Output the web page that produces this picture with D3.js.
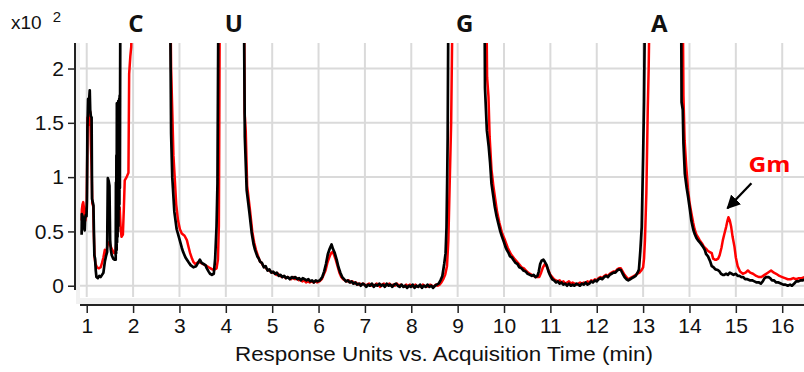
<!DOCTYPE html>
<html>
<head>
<meta charset="utf-8">
<script src="https://cdn.jsdelivr.net/npm/d3@7/dist/d3.min.js"></script>
<style>
  html, body { margin: 0; padding: 0; background: #fff; }
  svg { display: block; }
  .tick text { font-family: "Liberation Sans", Arial, sans-serif; font-size: 21px; fill: #111; }
</style>
</head>
<body>
<script>
// Chromatogram traces: [time (min), response (x10^2)]
const blackTrace = [
  [0.89,0.47],[0.895,0.66],[0.91,0.64],[0.93,0.60],[0.945,0.53],[0.955,0.51],[0.965,0.62],[0.98,0.65],[0.995,0.64],
  [1.005,0.78],[1.015,1.45],[1.03,1.72],[1.05,1.70],[1.065,1.80],[1.075,1.62],[1.09,1.56],[1.105,1.55],[1.115,0.80],
  [1.13,0.77],[1.145,0.74],[1.155,0.50],[1.165,0.28],[1.18,0.25],[1.195,0.14],[1.21,0.08],[1.24,0.07],[1.27,0.09],
  [1.30,0.08],[1.33,0.10],[1.36,0.12],[1.39,0.22],[1.42,0.28],[1.44,0.31],[1.455,0.99],[1.475,0.96],[1.49,0.92],
  [1.505,0.42],[1.52,0.33],[1.54,0.28],[1.57,0.25],[1.60,0.24],[1.625,0.24],[1.63,0.95],[1.635,0.30],[1.64,1.20],
  [1.645,0.33],[1.65,1.68],[1.655,0.40],[1.66,1.50],[1.665,0.45],[1.67,1.62],[1.675,0.50],[1.68,1.70],[1.685,0.55],
  [1.69,1.60],[1.695,0.70],[1.70,1.72],[1.705,0.75],[1.71,1.75],[1.715,0.90],[1.72,1.75],[1.725,2.6],[2.25,14],[2.80,2.6],
  [2.82,1.40],[2.845,1.00],[2.89,0.68],[2.94,0.52],[3.00,0.43],[3.05,0.35],[3.08,0.31],[3.13,0.26],[3.19,0.22],
  [3.24,0.19],[3.30,0.17],[3.36,0.18],[3.40,0.21],[3.44,0.24],[3.48,0.21],[3.52,0.20],[3.56,0.19],[3.59,0.16],
  [3.63,0.13],[3.66,0.11],[3.70,0.10],[3.74,0.11],[3.77,0.25],[3.80,0.55],[3.82,0.94],[3.84,2.6],[4.10,20],
  [4.39,2.6],[4.41,1.37],[4.45,0.88],[4.51,0.67],[4.56,0.48],[4.60,0.38],[4.63,0.33],[4.68,0.27],[4.71,0.25],
  [4.74,0.22],[4.78,0.21],[4.82,0.17],[4.86,0.18],[4.90,0.14],[4.94,0.15],[4.98,0.12],[5.02,0.13],[5.06,0.11],
  [5.10,0.12],[5.14,0.09],[5.18,0.10],[5.22,0.08],[5.26,0.09],[5.30,0.07],[5.34,0.08],[5.38,0.06],[5.42,0.08],
  [5.46,0.07],[5.50,0.08],[5.54,0.06],[5.58,0.07],[5.62,0.05],[5.66,0.07],[5.70,0.06],[5.74,0.05],[5.78,0.06],
  [5.82,0.04],[5.86,0.05],[5.90,0.03],[5.94,0.05],[5.98,0.04],[6.03,0.05],[6.08,0.08],[6.12,0.13],[6.16,0.20],
  [6.20,0.29],[6.24,0.34],[6.28,0.38],[6.31,0.34],[6.35,0.30],[6.39,0.24],[6.43,0.17],[6.47,0.12],[6.51,0.08],
  [6.55,0.06],[6.59,0.04],[6.63,0.05],[6.67,0.03],[6.71,0.04],[6.75,0.02],[6.79,0.03],[6.83,0.01],[6.87,0.02],
  [6.91,0.00],[6.95,0.02],[6.99,0.01],[7.03,-0.01],[7.07,0.01],[7.11,0.00],[7.15,0.02],[7.19,-0.01],[7.23,0.01],
  [7.27,0.00],[7.31,0.02],[7.35,0.00],[7.39,0.01],[7.43,-0.01],[7.47,0.02],[7.51,0.00],[7.55,0.01],[7.59,-0.01],
  [7.63,0.01],[7.67,0.02],[7.71,0.00],[7.75,-0.01],[7.79,0.01],[7.83,-0.01],[7.87,0.00],[7.91,-0.02],[7.95,0.00],
  [7.99,-0.01],[8.03,0.01],[8.07,-0.02],[8.11,0.00],[8.15,-0.01],[8.19,0.01],[8.23,-0.02],[8.27,0.00],[8.31,-0.01],
  [8.35,0.01],[8.39,-0.01],[8.43,0.00],[8.47,-0.02],[8.51,0.00],[8.55,0.01],[8.59,0.02],[8.63,0.05],[8.67,0.09],
  [8.71,0.20],[8.74,0.30],[8.76,0.54],[8.775,1.00],[8.785,1.37],[8.80,2.6],[9.20,22],[9.58,2.6],[9.59,1.82],
  [9.63,1.43],[9.67,1.28],[9.70,1.13],[9.73,0.94],[9.77,0.82],[9.80,0.73],[9.84,0.64],[9.88,0.57],[9.92,0.50],
  [9.95,0.46],[10.00,0.40],[10.03,0.36],[10.06,0.33],[10.10,0.30],[10.13,0.27],[10.17,0.26],[10.20,0.24],[10.25,0.21],
  [10.29,0.20],[10.33,0.17],[10.38,0.16],[10.42,0.14],[10.47,0.13],[10.51,0.11],[10.56,0.10],[10.60,0.09],[10.64,0.10],
  [10.68,0.08],[10.72,0.09],[10.75,0.13],[10.78,0.20],[10.81,0.23],[10.85,0.24],[10.88,0.22],[10.92,0.19],[10.96,0.13],
  [11.00,0.09],[11.04,0.06],[11.08,0.05],[11.12,0.03],[11.16,0.04],[11.20,0.02],[11.24,0.03],[11.28,0.01],[11.32,0.02],
  [11.36,0.00],[11.40,0.02],[11.44,0.00],[11.48,0.01],[11.52,0.00],[11.56,0.02],[11.60,0.01],[11.64,0.00],[11.68,0.02],
  [11.72,0.01],[11.76,0.03],[11.80,0.01],[11.84,0.02],[11.88,0.04],[11.92,0.03],[11.96,0.05],[12.00,0.04],[12.04,0.06],
  [12.08,0.07],[12.12,0.06],[12.16,0.08],[12.20,0.09],[12.24,0.08],[12.28,0.10],[12.32,0.11],[12.36,0.12],[12.40,0.12],
  [12.44,0.14],[12.48,0.15],[12.52,0.145],[12.56,0.11],[12.60,0.08],[12.64,0.06],[12.68,0.05],[12.72,0.06],[12.76,0.07],
  [12.80,0.08],[12.84,0.09],[12.88,0.12],[12.91,0.15],[12.94,0.32],[12.97,0.54],[13.00,1.19],[13.02,1.70],[13.04,2.6],
  [13.40,20],[13.82,2.6],[13.83,1.69],[13.855,1.62],[13.87,1.31],[13.90,1.03],[13.94,0.90],[13.97,0.82],[14.01,0.70],
  [14.04,0.60],[14.08,0.52],[14.11,0.48],[14.15,0.44],[14.18,0.42],[14.24,0.39],[14.29,0.36],[14.33,0.33],[14.36,0.29],
  [14.40,0.27],[14.45,0.22],[14.48,0.18],[14.52,0.17],[14.56,0.15],[14.61,0.145],[14.65,0.13],[14.68,0.11],[14.72,0.10],
  [14.75,0.10],[14.79,0.11],[14.83,0.10],[14.87,0.12],[14.91,0.11],[14.95,0.10],[15.00,0.11],[15.04,0.09],[15.08,0.09],
  [15.12,0.08],[15.16,0.08],[15.20,0.06],[15.25,0.06],[15.30,0.05],[15.35,0.05],[15.40,0.04],[15.45,0.03],[15.50,0.03],
  [15.54,0.02],[15.58,0.04],[15.62,0.07],[15.66,0.08],[15.70,0.08],[15.74,0.07],[15.78,0.05],[15.82,0.05],[15.87,0.03],
  [15.92,0.03],[15.97,0.02],[16.02,0.01],[16.07,0.01],[16.12,0.00],[16.17,0.01],[16.21,0.00],[16.26,0.02],[16.30,0.04],
  [16.35,0.04],[16.40,0.05],[16.45,0.05],[16.48,0.06]
];

const redTrace = [
  [0.89,0.60],[0.895,0.70],[0.91,0.75],[0.925,0.77],[0.94,0.72],[0.955,0.62],[0.97,0.60],[0.985,0.64],[1.00,0.74],
  [1.02,1.55],[1.04,1.48],[1.055,1.58],[1.075,1.60],[1.09,1.30],[1.105,1.10],[1.12,0.76],[1.14,0.73],[1.155,0.45],
  [1.17,0.26],[1.19,0.20],[1.22,0.17],[1.26,0.16],[1.30,0.17],[1.33,0.21],[1.36,0.26],[1.39,0.33],[1.42,0.30],
  [1.45,0.38],[1.48,0.40],[1.51,0.37],[1.55,0.33],[1.59,0.30],[1.62,0.31],[1.65,0.45],[1.68,0.70],[1.71,0.72],
  [1.73,0.55],[1.75,0.45],[1.78,0.47],[1.80,0.70],[1.82,0.97],[1.86,1.00],[1.90,1.04],[1.915,1.95],[1.94,2.11],
  [1.96,2.20],[1.98,2.6],[2.30,13],[2.805,2.6],[2.82,2.00],[2.85,1.53],[2.87,1.20],[2.90,0.98],[2.93,0.75],
  [2.97,0.60],[3.01,0.52],[3.05,0.48],[3.11,0.46],[3.16,0.42],[3.20,0.35],[3.23,0.30],[3.27,0.25],[3.30,0.22],
  [3.34,0.20],[3.38,0.21],[3.42,0.22],[3.46,0.21],[3.51,0.20],[3.55,0.19],[3.59,0.18],[3.63,0.17],[3.67,0.16],
  [3.71,0.15],[3.76,0.15],[3.80,0.16],[3.83,0.24],[3.85,0.55],[3.87,2.6],[4.12,19],[4.395,2.6],[4.405,1.60],
  [4.43,1.42],[4.46,0.92],[4.52,0.70],[4.57,0.50],[4.61,0.40],[4.65,0.33],[4.69,0.28],[4.73,0.23],[4.77,0.21],
  [4.81,0.18],[4.85,0.17],[4.89,0.15],[4.93,0.14],[4.97,0.13],[5.01,0.12],[5.05,0.12],[5.09,0.10],[5.13,0.11],
  [5.17,0.09],[5.21,0.08],[5.25,0.09],[5.29,0.07],[5.33,0.08],[5.37,0.07],[5.41,0.06],[5.45,0.08],[5.49,0.06],
  [5.53,0.07],[5.57,0.05],[5.61,0.06],[5.65,0.04],[5.69,0.05],[5.73,0.03],[5.77,0.04],[5.81,0.03],[5.85,0.04],
  [5.89,0.03],[5.93,0.04],[5.97,0.03],[6.02,0.04],[6.07,0.06],[6.11,0.10],[6.15,0.14],[6.19,0.21],[6.23,0.26],
  [6.27,0.30],[6.30,0.31],[6.33,0.29],[6.37,0.24],[6.41,0.18],[6.45,0.12],[6.49,0.08],[6.53,0.06],[6.57,0.05],
  [6.61,0.04],[6.65,0.05],[6.69,0.03],[6.73,0.04],[6.77,0.02],[6.81,0.03],[6.85,0.01],[6.89,0.02],[6.93,0.01],
  [6.97,0.02],[7.01,0.00],[7.05,0.01],[7.09,0.02],[7.13,0.00],[7.17,0.01],[7.21,0.00],[7.25,0.02],[7.29,0.01],
  [7.33,-0.01],[7.37,0.01],[7.41,0.02],[7.45,0.00],[7.49,0.01],[7.53,0.02],[7.57,0.00],[7.61,0.01],[7.65,0.00],
  [7.69,0.02],[7.73,0.00],[7.77,0.01],[7.81,0.00],[7.85,-0.01],[7.89,0.01],[7.93,-0.01],[7.97,0.01],[8.01,0.00],
  [8.05,-0.01],[8.09,0.01],[8.13,-0.01],[8.17,0.00],[8.21,-0.01],[8.25,0.01],[8.29,0.00],[8.33,-0.01],[8.37,0.00],
  [8.41,0.01],[8.45,0.00],[8.49,-0.01],[8.53,0.01],[8.57,0.00],[8.61,0.01],[8.65,0.03],[8.69,0.06],[8.73,0.10],
  [8.77,0.18],[8.80,0.42],[8.83,0.97],[8.86,1.50],[8.89,2.6],[9.22,21],[9.62,2.6],[9.635,1.92],[9.665,1.74],
  [9.69,1.37],[9.73,1.07],[9.77,0.92],[9.81,0.80],[9.85,0.68],[9.90,0.58],[9.96,0.48],[10.02,0.42],[10.08,0.35],
  [10.15,0.29],[10.22,0.25],[10.30,0.21],[10.38,0.17],[10.43,0.16],[10.47,0.14],[10.52,0.12],[10.56,0.11],[10.60,0.10],
  [10.64,0.09],[10.68,0.08],[10.72,0.08],[10.76,0.08],[10.80,0.12],[10.84,0.17],[10.88,0.20],[10.92,0.18],[10.96,0.14],
  [11.00,0.10],[11.04,0.08],[11.08,0.06],[11.12,0.05],[11.16,0.04],[11.20,0.05],[11.24,0.03],[11.28,0.04],[11.32,0.02],
  [11.36,0.03],[11.40,0.04],[11.44,0.02],[11.48,0.03],[11.52,0.02],[11.56,0.01],[11.60,0.02],[11.64,0.03],[11.68,0.02],
  [11.72,0.03],[11.76,0.02],[11.80,0.04],[11.84,0.03],[11.88,0.05],[11.92,0.04],[11.96,0.06],[12.00,0.05],[12.04,0.07],
  [12.08,0.08],[12.12,0.07],[12.16,0.09],[12.20,0.10],[12.24,0.09],[12.28,0.11],[12.32,0.12],[12.36,0.13],[12.40,0.13],
  [12.44,0.15],[12.48,0.16],[12.52,0.16],[12.56,0.13],[12.60,0.10],[12.64,0.08],[12.68,0.06],[12.72,0.07],[12.76,0.08],
  [12.80,0.09],[12.84,0.10],[12.88,0.11],[12.92,0.12],[12.96,0.14],[13.00,0.17],[13.02,0.25],[13.04,0.42],[13.07,0.85],
  [13.10,1.62],[13.12,2.00],[13.14,2.6],[13.45,19],[13.855,2.6],[13.87,1.75],[13.895,1.34],[13.93,1.10],[13.97,0.88],
  [14.00,0.77],[14.04,0.67],[14.08,0.58],[14.11,0.52],[14.15,0.47],[14.18,0.45],[14.22,0.42],[14.27,0.39],[14.31,0.36],
  [14.36,0.34],[14.40,0.32],[14.44,0.31],[14.48,0.30],[14.51,0.25],[14.55,0.24],[14.58,0.24],[14.62,0.25],[14.65,0.28],
  [14.69,0.35],[14.72,0.42],[14.76,0.49],[14.79,0.54],[14.82,0.60],[14.84,0.63],[14.87,0.60],[14.90,0.54],[14.93,0.45],
  [14.97,0.36],[15.00,0.26],[15.04,0.18],[15.09,0.13],[15.15,0.11],[15.21,0.12],[15.26,0.14],[15.31,0.12],[15.37,0.11],
  [15.44,0.09],[15.50,0.08],[15.55,0.08],[15.62,0.10],[15.69,0.12],[15.76,0.14],[15.82,0.12],[15.87,0.11],[15.94,0.09],
  [16.00,0.08],[16.06,0.07],[16.12,0.06],[16.18,0.06],[16.24,0.07],[16.30,0.06],[16.36,0.07],[16.42,0.07],[16.48,0.08]
];

// Peak annotations: label and retention time
const peakLabels = ["C", "U", "G", "A"];
const peakTimes = [2.06, 4.17, 9.15, 13.35];

// Modified nucleoside callout
const calloutLabel = "Gm";
const calloutTime = 14.84;
const calloutValue = 0.63;

const xTicks = [1,2,3,4,5,6,7,8,9,10,11,12,13,14,15,16];
const yTicks = [0, 0.5, 1, 1.5, 2];
const xTitle = "Response Units vs. Acquisition Time (min)";

const W = 804, H = 372;
const plot = { left: 80, right: 804, top: 43, bottom: 298 };

const x = d3.scaleLinear().domain([0.855, 16.47]).range([plot.left, plot.right]);
const y = d3.scaleLinear().domain([-0.113, 2.235]).range([plot.bottom, plot.top]);

const svg = d3.select("body").append("svg").attr("width", W).attr("height", H);

// light frame around the plotting area
svg.append("rect").attr("x", 76).attr("y", plot.top).attr("width", W - 76).attr("height", 304 - plot.top).attr("fill", "#f1f1f1");
svg.append("rect").attr("x", plot.left).attr("y", plot.top).attr("width", plot.right - plot.left).attr("height", plot.bottom - plot.top).attr("fill", "#fff");

// grid
const grid = svg.append("g").attr("stroke", "#dadada").attr("stroke-width", 2);
grid.selectAll("line.v").data(xTicks).join("line")
  .attr("x1", d => x(d)).attr("x2", d => x(d)).attr("y1", plot.top).attr("y2", plot.bottom - 1);
grid.selectAll("line.h").data(yTicks).join("line")
  .attr("x1", plot.left).attr("x2", plot.right).attr("y1", d => y(d)).attr("y2", d => y(d));

// traces
svg.append("clipPath").attr("id", "plotclip").append("rect")
  .attr("x", plot.left).attr("y", plot.top).attr("width", plot.right - plot.left).attr("height", plot.bottom - plot.top);

const line = d3.line().x(d => x(d[0])).y(d => y(d[1]));
const traces = svg.append("g").attr("clip-path", "url(#plotclip)").attr("fill", "none").attr("stroke-linejoin", "round");
traces.append("path").datum(redTrace).attr("d", line).attr("stroke", "#ff0000").attr("stroke-width", 2.5);
traces.append("path").datum(blackTrace).attr("d", line).attr("stroke", "#000").attr("stroke-width", 2.7);

// axes
const xAxis = svg.append("g").attr("transform", `translate(0,305)`)
  .call(d3.axisBottom(x).tickValues(xTicks).tickFormat(d3.format("d")).tickSize(8).tickPadding(5));
xAxis.select(".domain").remove();
xAxis.selectAll(".tick line").attr("stroke", "#222").attr("stroke-width", 1.5);
xAxis.append("line").attr("x1", plot.left).attr("x2", W).attr("y1", 0).attr("y2", 0).attr("stroke", "#222").attr("stroke-width", 2);

const yAxis = svg.append("g").attr("transform", `translate(75,0)`)
  .call(d3.axisLeft(y).tickValues(yTicks).tickFormat(d => d3.format("")(d)).tickSize(7).tickPadding(4));
yAxis.select(".domain").remove();
yAxis.selectAll(".tick line").attr("stroke", "#222").attr("stroke-width", 1.5);
yAxis.append("line").attr("x1", 0).attr("x2", 0).attr("y1", plot.top).attr("y2", 290).attr("stroke", "#222").attr("stroke-width", 2);

// axis title
svg.append("text").attr("x", 444).attr("y", 361).attr("text-anchor", "middle")
  .attr("font-family", "Liberation Sans, Arial, sans-serif").attr("font-size", 21).attr("fill", "#111")
  .attr("textLength", 418).attr("lengthAdjust", "spacingAndGlyphs")
  .text(xTitle);

// scale multiplier
const mult = svg.append("text").attr("x", 11).attr("y", 29)
  .attr("font-family", "Liberation Sans, Arial, sans-serif").attr("font-size", 19).attr("fill", "#111");
mult.append("tspan").text("x10");
mult.append("tspan").attr("dx", 11).attr("dy", -7).attr("font-size", 15).text("2");

// peak labels
svg.selectAll("text.peak").data(peakLabels).join("text")
  .attr("class", "peak")
  .attr("x", (d, i) => x(peakTimes[i])).attr("y", 32).attr("text-anchor", "middle")
  .attr("font-family", "Open Sans, sans-serif").attr("font-weight", 700).attr("font-size", 24).attr("fill", "#111")
  .text(d => d);

// Gm callout with arrow
const tipX = x(calloutTime) - 1, tipY = y(calloutValue) - 9;
const tailX = tipX + 24, tailY = tipY - 25;
svg.append("defs").append("marker").attr("id", "arrowhead")
  .attr("viewBox", "0 0 10 10").attr("refX", 9).attr("refY", 5)
  .attr("markerWidth", 6).attr("markerHeight", 6).attr("markerUnits", "strokeWidth").attr("orient", "auto")
  .append("path").attr("d", "M0,0 L10,5 L0,10 Z").attr("fill", "#000");
svg.append("line").attr("x1", tailX).attr("y1", tailY).attr("x2", tipX).attr("y2", tipY)
  .attr("stroke", "#000").attr("stroke-width", 2.3).attr("marker-end", "url(#arrowhead)");
svg.append("text").attr("x", tailX + 18).attr("y", tailY - 11).attr("text-anchor", "middle")
  .attr("font-family", "Open Sans, sans-serif").attr("font-weight", 700).attr("font-size", 22).attr("fill", "#ff0000")
  .attr("textLength", 42).attr("lengthAdjust", "spacingAndGlyphs")
  .text(calloutLabel);
</script>
</body>
</html>
